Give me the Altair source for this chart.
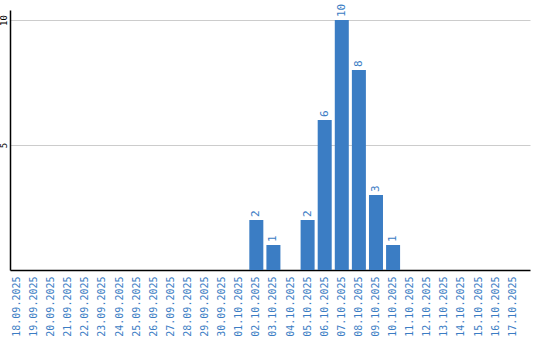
import altair as alt
import pandas as pd

dates = ["18.09.2025", "19.09.2025", "20.09.2025", "21.09.2025", "22.09.2025",
         "23.09.2025", "24.09.2025", "25.09.2025", "26.09.2025", "27.09.2025",
         "28.09.2025", "29.09.2025", "30.09.2025", "01.10.2025", "02.10.2025",
         "03.10.2025", "04.10.2025", "05.10.2025", "06.10.2025", "07.10.2025",
         "08.10.2025", "09.10.2025", "10.10.2025", "11.10.2025", "12.10.2025",
         "13.10.2025", "14.10.2025", "15.10.2025", "16.10.2025", "17.10.2025"]
counts = [0, 0, 0, 0, 0, 0, 0, 0, 0, 0, 0, 0, 0, 0, 2, 1, 0, 2, 6, 10, 8, 3, 1,
          0, 0, 0, 0, 0, 0, 0]

df = pd.DataFrame({"date": dates, "count": counts})
BLUE = "#3b7dc4"
FONT = "DejaVu Sans Mono"

x = alt.X("date:N", sort=dates, title=None,
          scale=alt.Scale(paddingInner=0.18, paddingOuter=0.3, align=0),
          axis=alt.Axis(labelAngle=270, labelAlign="right", labelBaseline="middle",
                        labelColor=BLUE, labelFont=FONT, labelFontSize=10,
                        labelPadding=6, ticks=False, domainColor="black",
                        domainWidth=1.5, grid=False, labelOverlap=False))
y = alt.Y("count:Q", title=None,
          scale=alt.Scale(domain=[0, 10.4], nice=False),
          axis=alt.Axis(values=[5, 10], labelAngle=270, labelAlign="center",
                        labelBaseline="bottom", labelFont=FONT, labelFontSize=9,
                        labelColor="black", labelPadding=2, ticks=False,
                        domainColor="black", domainWidth=1.5, gridColor="#cccccc"))

bars = alt.Chart(df).mark_bar(color=BLUE).encode(x=x, y=y)
labels = alt.Chart(df).transform_filter("datum.count > 0").mark_text(
    angle=270, align="left", baseline="middle", dx=3, color=BLUE,
    font=FONT, fontSize=11).encode(x=x, y=y, text="count:Q")

chart = (bars + labels).properties(
    width=520, height=260,
    padding={"left": 10, "top": 10, "right": 10, "bottom": 70},
    autosize=alt.AutoSizeParams(type="none"),
).configure(background="white").configure_view(strokeWidth=0, stroke="transparent")

chart.save("out.html", embed_options={"renderer": "svg", "actions": False})
